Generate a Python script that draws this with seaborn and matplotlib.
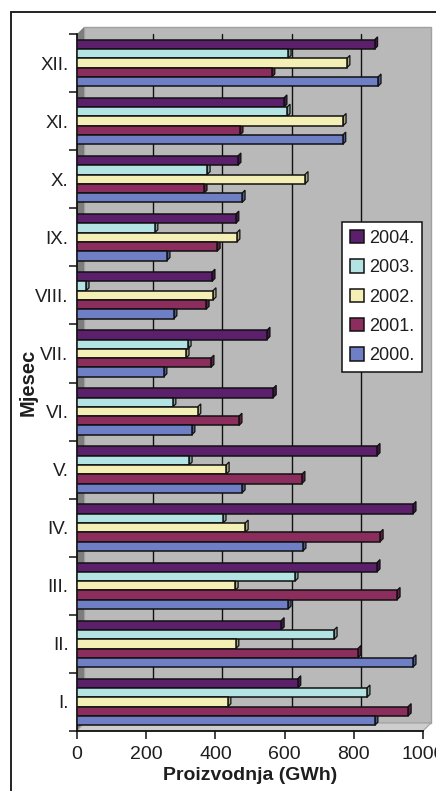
import matplotlib
matplotlib.use("Agg")
import matplotlib.pyplot as plt
from matplotlib.patches import Rectangle, Polygon
from matplotlib.transforms import ScaledTranslation, IdentityTransform
from matplotlib.colors import to_rgb
import numpy as np
import pandas as pd
import seaborn as sns

# Monthly production (GWh) per year
months = ["I.", "II.", "III.", "IV.", "V.", "VI.", "VII.", "VIII.", "IX.", "X.", "XI.", "XII."]
y2000 = [861, 971, 610, 653, 477, 332, 251, 280, 260, 477, 768, 870]
y2001 = [957, 812, 925, 876, 650, 468, 387, 373, 405, 367, 471, 563]
y2002 = [436, 459, 457, 486, 431, 349, 315, 393, 462, 659, 769, 780]
y2003 = [838, 743, 630, 422, 324, 277, 321, 26, 225, 376, 607, 610]
y2004 = [638, 590, 867, 971, 867, 567, 549, 390, 459, 465, 598, 860]
years = ["2004.", "2003.", "2002.", "2001.", "2000."]
colors = ["#5b1f6c", "#b3e3e3", "#f3efb5", "#8b2d5d", "#6e7fc5"]
xticks = [0, 200, 400, 600, 800, 1000]

series = {"2000.": y2000, "2001.": y2001, "2002.": y2002, "2003.": y2003, "2004.": y2004}
df = pd.DataFrame(
    [(m, yr, series[yr][i]) for yr in years for i, m in enumerate(months)],
    columns=["Mjesec", "Godina", "GWh"],
)

sns.set_theme(style="white")
plt.rcParams["font.family"] = ["Liberation Sans", "DejaVu Sans"]
txt = "#1e1e1e"

W, H = 436, 791
fig = plt.figure(figsize=(W / 100, H / 100), dpi=100)
fig.patch.set_facecolor("white")

def fx(px):
    return px / W

def fy(py):
    return 1 - py / H

# outer frame of the chart
fig.patches.append(Rectangle((fx(11), fy(830)), fx(460), fy(12) - fy(830),
                             transform=fig.transFigure, fill=False,
                             edgecolor="#222222", linewidth=1.4, zorder=-2))

# back wall, side wall and floor
fig.patches.append(Rectangle((fx(84), fy(723)), fx(431) - fx(84), fy(27) - fy(723),
                             transform=fig.transFigure, facecolor="#b9b9b9",
                             edgecolor="#a0a0a0", linewidth=1.0, zorder=-2))
fig.patches.append(Polygon([(fx(77), fy(34)), (fx(84), fy(27)), (fx(84), fy(723)), (fx(77), fy(731))],
                           closed=True, transform=fig.transFigure, facecolor="#7d7d7d",
                           edgecolor="none", zorder=-2))
fig.patches.append(Polygon([(fx(77), fy(731)), (fx(84), fy(723)), (fx(431), fy(723)), (fx(423), fy(731))],
                           closed=True, transform=fig.transFigure, facecolor="#cdcdcd",
                           edgecolor="#a0a0a0", linewidth=0.8, zorder=-2))

ax = fig.add_axes([fx(77), fy(731), fx(423) - fx(77), fy(34) - fy(731)])
ax.set_facecolor("none")
ax.set_zorder(1)

sns.barplot(data=df, y="Mjesec", x="GWh", hue="Godina",
            order=months[::-1], hue_order=years, palette=colors,
            orient="h", width=0.8, edgecolor="#111111", linewidth=1.1,
            saturation=1, ax=ax, zorder=3)

ax.set_xlim(0, 1000)
ax.set_ylim(11.5, -0.5)

# gridlines on the back wall
shift = ScaledTranslation(7 / 100, 7 / 100, fig.dpi_scale_trans)
for v in xticks[1:-1]:
    ax.plot([v, v], [0, 0.99], transform=ax.get_xaxis_transform() + shift,
            color="#111111", linewidth=1.0, zorder=1, clip_on=False)

# shaded end faces give the bars some depth
d = 3
for p in list(ax.patches):
    if not isinstance(p, Rectangle) or p.get_width() <= 0:
        continue
    x_end = p.get_x() + p.get_width()
    (xe, ya), = ax.transData.transform([(x_end, p.get_y())])
    (_, yb), = ax.transData.transform([(x_end, p.get_y() + p.get_height())])
    ylo, yhi = min(ya, yb), max(ya, yb)
    shade = tuple(c * 0.7 for c in to_rgb(p.get_facecolor()))
    cap = Polygon([(xe, ylo), (xe, yhi), (xe + d, yhi + d), (xe + d, ylo + d)],
                  closed=True, transform=IdentityTransform(), facecolor=shade,
                  edgecolor="#111111", linewidth=0.9, zorder=2.9)
    ax.add_artist(cap)

ax.set_xticks(xticks)
ax.set_xticklabels([str(v) for v in xticks], fontsize=14, color=txt)
ax.set_yticks(range(12))
ax.set_yticklabels(months[::-1], fontsize=13.5, color=txt)
ax.set_yticks(np.arange(-0.5, 12, 1), minor=True)
ax.tick_params(axis="y", which="major", length=0, pad=6)
ax.tick_params(axis="y", which="minor", length=6, width=1.1, color="#111111", direction="out", left=True)
ax.tick_params(axis="x", which="major", length=6, width=1.1, color="#111111", direction="out", bottom=True, pad=5)

for s in ["top", "right"]:
    ax.spines[s].set_visible(False)
for s in ["left", "bottom"]:
    ax.spines[s].set_color("#111111")
    ax.spines[s].set_linewidth(1.3)

ax.set_xlabel("Proizvodnja (GWh)", fontsize=14, fontweight="bold", color=txt)
ax.set_ylabel("Mjesec", fontsize=14.5, fontweight="bold", color=txt)
ax.xaxis.set_label_coords(0.5, (731 - 775) / (731 - 34))
ax.xaxis.label.set_va("center")
ax.yaxis.set_label_coords((28 - 77) / (423 - 77), 0.5)
ax.yaxis.label.set_va("center")

handles, labels = ax.get_legend_handles_labels()
leg = ax.legend(handles, labels, loc="upper left", bbox_to_anchor=(fx(342), fy(222)),
                bbox_transform=fig.transFigure, borderaxespad=0, fontsize=13,
                frameon=True, fancybox=False, edgecolor="#111111", facecolor="white",
                framealpha=1, handlelength=0.75, handleheight=0.75, handletextpad=0.3,
                labelspacing=0.68, borderpad=0.45, title=None)
leg.get_frame().set_linewidth(1.1)
leg.set_zorder(10)
for t in leg.get_texts():
    t.set_color(txt)

fig.savefig("out.png", dpi=100)
